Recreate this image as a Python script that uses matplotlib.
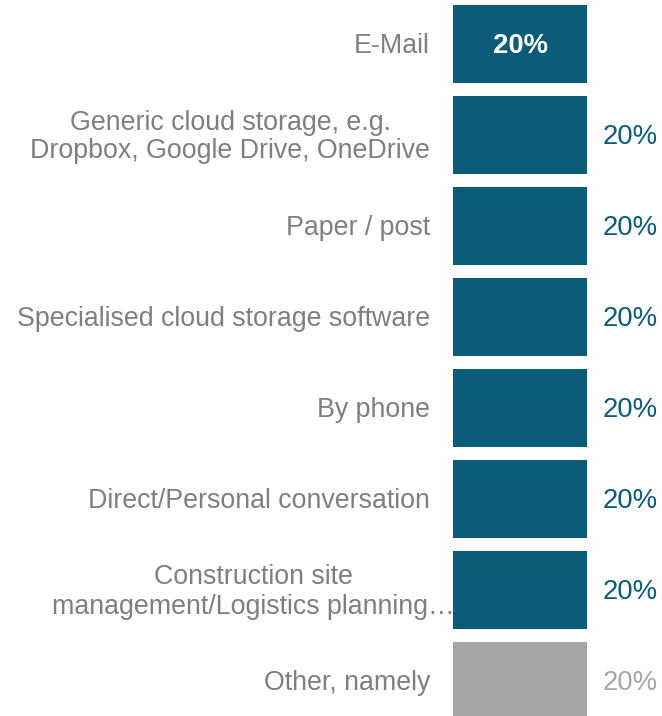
import matplotlib
matplotlib.use("Agg")
import matplotlib.pyplot as plt
from matplotlib.transforms import offset_copy

categories = [
    "E-Mail",
    "Generic cloud storage, e.g.\nDropbox, Google Drive, OneDrive",
    "Paper / post",
    "Specialised cloud storage software",
    "By phone",
    "Direct/Personal conversation",
    "Construction site\nmanagement/Logistics planning\u2026",
    "Other, namely",
]
values = [20, 20, 20, 20, 20, 20, 20, 20]
value_labels = ["20%"] * 8

MAIN = "#0b5c78"
OTHER = "#a6a6a6"
LABEL_GRAY = "#7f7f7f"

plt.rcParams["font.family"] = ["Liberation Sans", "DejaVu Sans"]

W, H = 662, 716
fig = plt.figure(figsize=(W / 100, H / 100), dpi=100)
ax = fig.add_axes([453 / W, 0, 209 / W, 1])

ypos = list(range(len(categories)))
colors = [OTHER if c.startswith("Other") else MAIN for c in categories]
ax.barh(ypos, values, height=0.86, color=colors, zorder=3)

ax.set_xlim(0, 20 * 209 / 134)
ax.set_ylim((716 - 44) / 91, -44 / 91)
ax.axis("off")

fs = 19.3
vfs = 19.8
for i, (cat, v, lab, col) in enumerate(zip(categories, values, value_labels, colors)):
    xoff = 2 if cat.endswith("\u2026") else -23
    tr = offset_copy(ax.transData, fig=fig, x=xoff, y=-2, units="dots")
    ax.text(0, i, cat, transform=tr, ha="right", va="center", multialignment="center",
            fontsize=fs, color=LABEL_GRAY, zorder=1, linespacing=1.15)
    if i == 0:
        tr1 = offset_copy(ax.transData, fig=fig, x=0, y=-2, units="dots")
        ax.text(v / 2, i, lab, transform=tr1, ha="center", va="center", fontsize=vfs,
                color="white", fontweight="bold", zorder=4)
    else:
        tr2 = offset_copy(ax.transData, fig=fig, x=16, y=-2, units="dots")
        ax.text(v, i, lab, transform=tr2, ha="left", va="center", fontsize=vfs,
                color=col, zorder=4)

fig.savefig("out.png", dpi=100)
